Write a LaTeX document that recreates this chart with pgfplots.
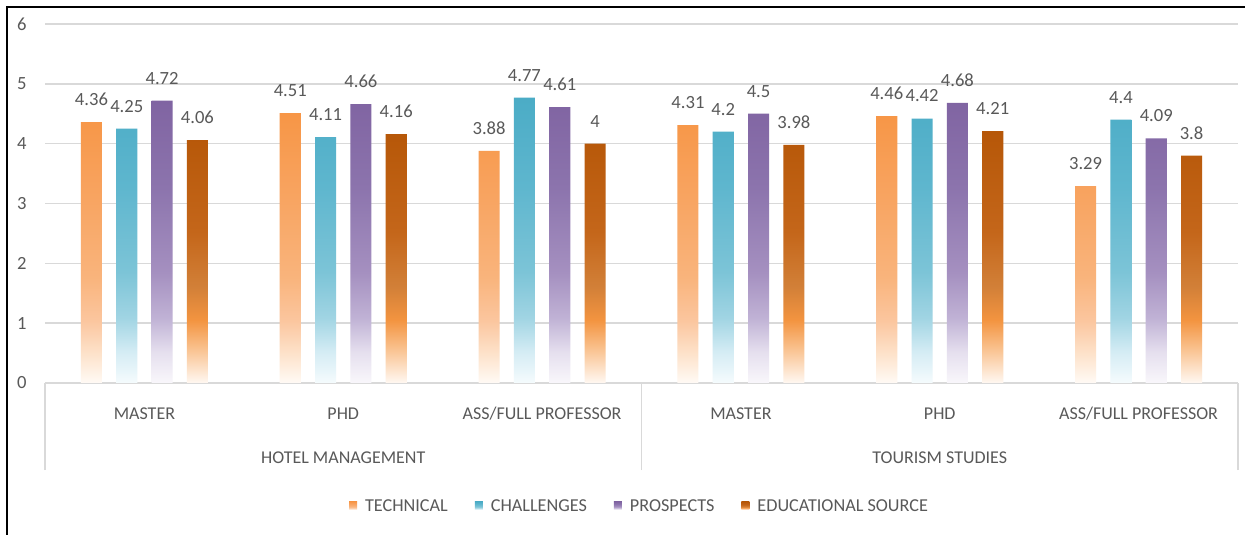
\documentclass[border=0pt]{standalone}
\usepackage{pgfplots}
\usepackage{pgfplotstable}
\pgfplotsset{compat=1.18}
\usepackage{fontspec}
\setmainfont{Carlito}

\definecolor{labgray}{HTML}{595959}
\definecolor{gridgray}{HTML}{D9D9D9}
% technical
\definecolor{tA}{HTML}{FFFAF5}\definecolor{tB}{HTML}{FDE2CA}\definecolor{tC}{HTML}{FBC69F}
\definecolor{tD}{HTML}{F9B47C}\definecolor{tE}{HTML}{F8A461}\definecolor{tF}{HTML}{F79646}
% challenges
\definecolor{cA}{HTML}{F5FBFD}\definecolor{cB}{HTML}{D4ECF4}\definecolor{cC}{HTML}{A0D4E3}
\definecolor{cD}{HTML}{7CC4D7}\definecolor{cE}{HTML}{5EB6CE}\definecolor{cF}{HTML}{4BACC6}
% prospects
\definecolor{pA}{HTML}{F9F7FB}\definecolor{pB}{HTML}{E5DFEE}\definecolor{pC}{HTML}{C0B2D5}
\definecolor{pD}{HTML}{A590C0}\definecolor{pE}{HTML}{8C74AD}\definecolor{pF}{HTML}{8064A2}
% educational source
\definecolor{eA}{HTML}{FFF8F2}\definecolor{eB}{HTML}{F9C08C}\definecolor{eC}{HTML}{F39440}
\definecolor{eD}{HTML}{D28038}\definecolor{eE}{HTML}{C4661A}\definecolor{eF}{HTML}{B65708}

\pgfdeclareverticalshading{techshade}{100bp}{color(0bp)=(tA); color(25bp)=(tA); color(30.5bp)=(tB); color(36.5bp)=(tC); color(44.5bp)=(tD); color(59.5bp)=(tE); color(75bp)=(tF); color(100bp)=(tF)}
\pgfdeclareverticalshading{chalshade}{100bp}{color(0bp)=(cA); color(25bp)=(cA); color(30.5bp)=(cB); color(36.5bp)=(cC); color(44.5bp)=(cD); color(59.5bp)=(cE); color(75bp)=(cF); color(100bp)=(cF)}
\pgfdeclareverticalshading{prosshade}{100bp}{color(0bp)=(pA); color(25bp)=(pA); color(30.5bp)=(pB); color(36.5bp)=(pC); color(44.5bp)=(pD); color(59.5bp)=(pE); color(75bp)=(pF); color(100bp)=(pF)}
\pgfdeclareverticalshading{edushade}{100bp}{color(0bp)=(eA); color(25bp)=(eA); color(32bp)=(eB); color(37.5bp)=(eC); color(44bp)=(eD); color(55bp)=(eE); color(75bp)=(eF); color(100bp)=(eF)}

\pgfplotstableread{
x tech chal pros edu
0 4.36 4.25 4.72 4.06
1 4.51 4.11 4.66 4.16
2 3.88 4.77 4.61 4
3 4.31 4.2 4.5 3.98
4 4.46 4.42 4.68 4.21
5 3.29 4.4 4.09 3.8
}\datatable

\begin{document}
\begin{tikzpicture}
\useasboundingbox (0,0) rectangle (626pt,267.5pt);
\fill[white] (0,0) rectangle (626pt,267.5pt);
\draw[black, line width=1pt] (3.25pt,0) -- (3.25pt,263.75pt) -- (622.5pt,263.75pt);
\begin{axis}[
  at={(22.5pt,76pt)}, anchor=south west,
  width=596.5pt, height=179.5pt, scale only axis,
  xmin=-0.5, xmax=5.5, ymin=0, ymax=6,
  clip=false,
  axis line style={draw=none},
  ytick={0,1,2,3,4,5,6},
  ymajorgrids, grid style={draw=gridgray, line width=0.7pt},
  major tick length=0pt,
  tick pos=left,
  xtick={0,1,2,3,4,5},
  xticklabels={MASTER,PHD,ASS/FULL PROFESSOR,MASTER,PHD,ASS/FULL PROFESSOR},
  xticklabel style={anchor=center, inner sep=0pt, yshift=-15.25pt, font=\fontsize{9}{11}\selectfont, text=labgray},
  yticklabel style={anchor=east, inner sep=0pt, xshift=-9pt, font=\fontsize{9.3}{11}\selectfont, text=labgray},
  /pgf/number format/assume math mode=true,
  extra x ticks={-0.5,2.5,5.5},
  extra x tick labels={},
  extra x tick style={major tick length=43.5pt, tick align=outside, tick style={draw=gridgray, line width=0.7pt}},
  ybar, bar width=0.106,
  nodes near coords,
  every node near coord/.append style={font=\fontsize{9.3}{11}\selectfont, text=labgray, inner sep=0pt, anchor=south, yshift=8pt},
  legend columns=4,
  legend style={at={(0.4975,-0.345)}, anchor=center, draw=none, fill=none,
    font=\fontsize{9.1}{11}\selectfont, text=labgray,
    nodes={inner sep=0pt},
    /tikz/every odd column/.append style={column sep=4pt},
    /tikz/every even column/.append style={column sep=13.5pt}},
  legend image code/.code={\path[#1, draw=none] (0pt,-1.4pt) rectangle (4pt,2.6pt);},
]
\addplot[ybar, draw=none, shade, shading=techshade, bar shift=-0.2664] table[x=x, y=tech] {\datatable};
\addplot[ybar, draw=none, shade, shading=chalshade, bar shift=-0.0888] table[x=x, y=chal] {\datatable};
\addplot[ybar, draw=none, shade, shading=prosshade, bar shift=0.0888] table[x=x, y=pros] {\datatable};
\addplot[ybar, draw=none, shade, shading=edushade, bar shift=0.2664] table[x=x, y=edu] {\datatable};
\legend{TECHNICAL, CHALLENGES, PROSPECTS, EDUCATIONAL SOURCE}
\node[font=\fontsize{9}{11}\selectfont, text=labgray, inner sep=0pt, anchor=center] at (axis cs:1,0) [yshift=-37.5pt] {HOTEL MANAGEMENT};
\node[font=\fontsize{9}{11}\selectfont, text=labgray, inner sep=0pt, anchor=center] at (axis cs:4,0) [yshift=-37.5pt] {TOURISM STUDIES};
\end{axis}
\end{tikzpicture}
\end{document}
